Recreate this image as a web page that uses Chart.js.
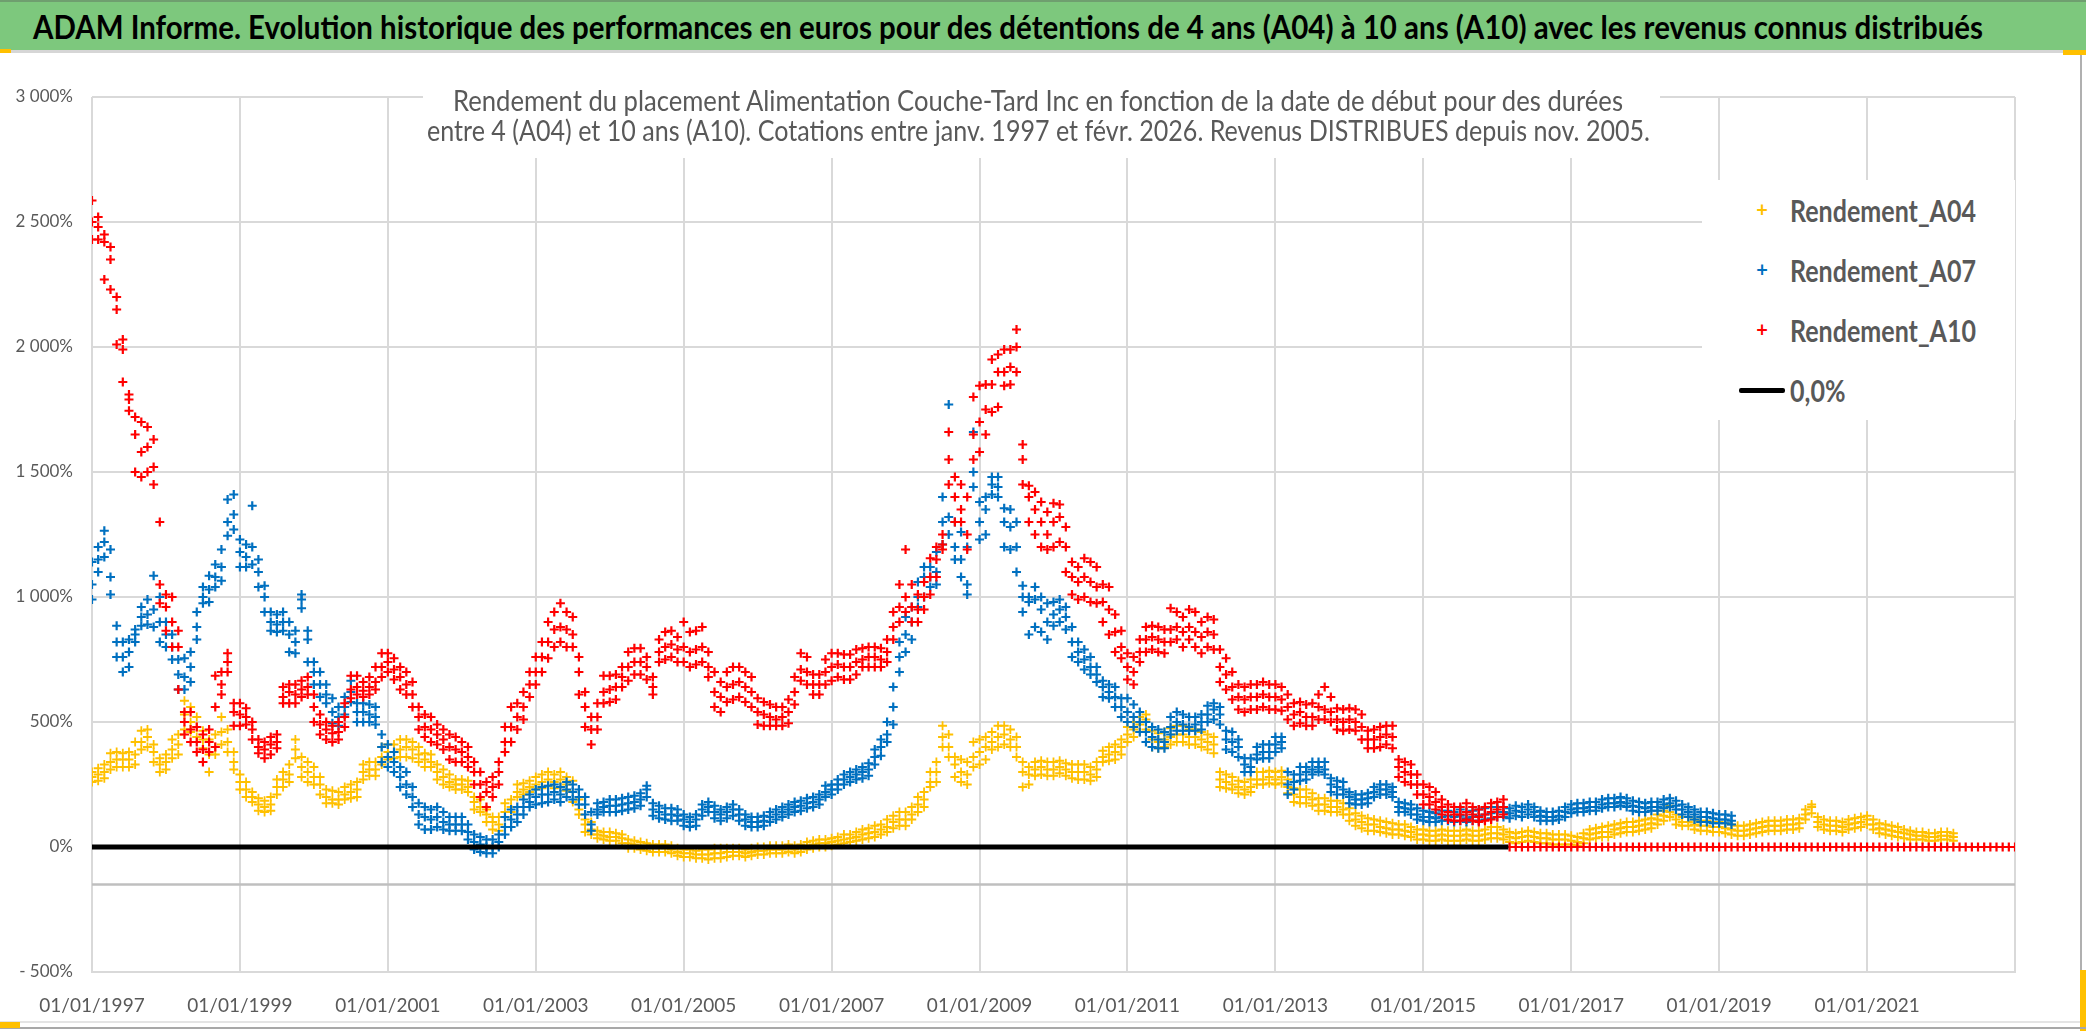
<!DOCTYPE html>
<html>
<head>
<meta charset="utf-8">
<script src="https://cdn.jsdelivr.net/npm/chart.js@4.4.1/dist/chart.umd.min.js"></script>
<style>
  html, body { margin: 0; padding: 0; background: #fff; }
  body { width: 2086px; height: 1031px; position: relative; overflow: hidden; font-family: Lato, sans-serif; }
  canvas { position: absolute; left: 0; top: 0; }
  #banner { position: absolute; left: 0; top: 0; width: 2086px; height: 50px; background: #7dc87d;
            border-top: 2px solid #6f9f6f; box-sizing: border-box; }
  #banner span { position: absolute; left: 33px; top: 4px; font-size: 33px; font-weight: bold;
                 color: #000; white-space: nowrap; transform-origin: 0 50%; }
  #rule { position: absolute; left: 0; top: 50px; width: 2086px; height: 3px; background: #d6d6d6; }
  #subtitle { position: absolute; left: 423px; top: 85px; width: 1237px; height: 73px; background: #fff; }
  #subtitle span { position: absolute; white-space: nowrap; color: #595959; font-size: 29px;
                   line-height: 30px; transform-origin: 0 50%; }
  #legend { position: absolute; left: 1702px; top: 180px; width: 313px; height: 240px; background: #fff; }
  .item { position: absolute; left: 0; height: 40px; width: 313px; }
  .item .mk { position: absolute; left: 50px; top: 4px; width: 20px; text-align: center;
              font-size: 20px; font-weight: bold; line-height: 30px; }
  .item .tx { position: absolute; left: 88px; top: 0px; font-size: 30px; font-weight: bold;
              color: #595959; line-height: 40px; white-space: nowrap; transform-origin: 0 50%; }
  .item .ln { position: absolute; left: 37px; top: 18px; width: 46px; height: 5px; background: #000;
              border-radius: 2px; }
  .deco { position: absolute; }
</style>
</head>
<body>
<canvas id="chart" width="2086" height="1031"></canvas>
<div id="banner"><span id="titleText">ADAM Informe. Evolution historique des performances en euros pour des détentions de 4 ans (A04) à 10 ans (A10) avec les revenus connus distribués</span></div>
<div id="rule"></div>
<div id="subtitle"><span id="sub1" style="top:0">Rendement du placement Alimentation Couche-Tard Inc en fonction de la date de début pour des durées</span><span id="sub2" style="top:30px">entre 4 (A04) et 10 ans (A10). Cotations entre janv. 1997 et févr. 2026. Revenus DISTRIBUES depuis nov. 2005.</span></div>
<div id="legend"></div>
<div class="deco" style="left:0;top:49px;width:11px;height:4px;background:#ffc000"></div>
<div class="deco" style="left:2063px;top:50px;width:23px;height:5px;background:#ffc000"></div>
<div class="deco" style="left:2080px;top:55px;width:2px;height:976px;background:#b0b0b0"></div>
<div class="deco" style="left:2080px;top:970px;width:6px;height:61px;background:#ffc000"></div>
<div class="deco" style="left:0;top:1021px;width:2080px;height:2px;background:#e4e4e4"></div>
<div class="deco" style="left:0;top:1027px;width:2086px;height:2px;background:#a8a8a8"></div>
<div class="deco" style="left:0;top:1022px;width:20px;height:6px;background:#ffc000"></div>
<script>
// Rendement selon la date de début : une lecture par mois depuis janv. 1997 (en %),
// avec le bas et le haut du nuage de points pour chaque mois.
const firstYear = 1997;

const rendementA04 = [
  280, 290, 300, 340, 350, 350, 350, 370, 420, 440, 380, 330,
  340, 390, 410, 530, 500, 480, 430, 370, 400, 460, 420, 340,
  260, 230, 200, 170, 160, 170, 240, 270, 290, 390, 320, 300,
  280, 250, 200, 190, 190, 210, 220, 230, 300, 310, 310, 360,
  380, 380, 390, 400, 390, 370, 350, 340, 300, 280, 260, 250,
  250, 240, 180, 160, 130, 100, 90, 140, 160, 220, 230, 240,
  250, 260, 270, 260, 270, 250, 220, 150, 90, 70, 50, 45,
  40, 40, 35, 15, 10, 5, 5, -5, -5, -5, -10, -20,
  -25, -25, -30, -30, -30, -25, -25, -20, -20, -20, -25, -20,
  -15, -15, -10, -10, -10, -5, -10, -5, 5, 10, 15, 15,
  20, 25, 30, 35, 40, 50, 55, 60, 70, 80, 100, 110,
  110, 130, 170, 190, 260, 300, 440, 400, 330, 300, 290, 360,
  380, 400, 420, 440, 450, 430, 400, 300, 290, 310, 320, 310,
  310, 320, 310, 300, 300, 300, 290, 310, 360, 370, 380, 400,
  450, 470, 490, 510, 430, 420, 430, 440, 450, 450, 440, 440,
  430, 420, 410, 270, 260, 250, 240, 230, 240, 270, 270, 280,
  270, 280, 240, 210, 200, 200, 190, 170, 170, 160, 160, 150,
  130, 110, 100, 90, 90, 80, 75, 70, 70, 65, 60, 50,
  50, 45, 45, 50, 45, 45, 45, 50, 45, 45, 50, 55,
  55, 50, 40, 35, 40, 45, 40, 35, 35, 30, 30, 30,
  25, 20, 35, 50, 55, 60, 60, 70, 75, 80, 80, 85,
  90, 95, 110, 125, 140, 110, 100, 100, 90, 85, 85, 80,
  80, 75, 70, 65, 65, 70, 75, 80, 85, 85, 85, 90,
  90, 95, 130, 160, 100, 90, 85, 85, 80, 90, 95, 100,
  110, 90, 75, 70, 65, 60, 55, 50, 45, 45, 40, 40,
  45, 45, 40
];
const rendementA04Bas = [
  260, 265, 275, 310, 320, 320, 320, 330, 390, 400, 340, 300,
  310, 355, 370, 470, 460, 440, 395, 300, 370, 410, 380, 310,
  230, 200, 180, 145, 140, 145, 210, 240, 260, 355, 280, 260,
  250, 210, 175, 175, 170, 190, 195, 200, 270, 285, 285, 330,
  350, 355, 360, 360, 355, 340, 320, 320, 270, 250, 240, 230,
  230, 220, 150, 140, 100, 70, 65, 120, 140, 200, 210, 220,
  230, 235, 245, 235, 240, 225, 180, 130, 60, 50, 35, 30,
  25, 25, 15, -5, -5, -10, -15, -20, -20, -20, -25, -35,
  -40, -40, -45, -45, -50, -45, -45, -40, -35, -35, -40, -35,
  -30, -30, -25, -25, -25, -20, -25, -20, -10, -5, 0, 0,
  5, 10, 15, 20, 25, 30, 35, 40, 50, 60, 75, 85,
  85, 110, 140, 160, 240, 260, 400, 360, 280, 260, 250, 320,
  330, 350, 390, 400, 410, 400, 360, 240, 250, 285, 290, 285,
  285, 295, 285, 275, 270, 270, 265, 280, 340, 345, 350, 370,
  420, 440, 460, 470, 400, 395, 400, 410, 420, 420, 410, 410,
  400, 390, 375, 240, 235, 230, 215, 210, 220, 250, 250, 255,
  250, 255, 215, 180, 175, 175, 165, 145, 145, 140, 140, 130,
  105, 85, 75, 65, 65, 60, 55, 50, 50, 45, 40, 30,
  30, 25, 25, 30, 25, 25, 25, 30, 25, 25, 30, 35,
  35, 30, 20, 15, 20, 25, 20, 15, 15, 10, 10, 10,
  10, 5, 15, 30, 35, 40, 40, 50, 55, 60, 60, 65,
  70, 75, 90, 105, 120, 90, 85, 85, 70, 65, 65, 60,
  60, 55, 50, 45, 45, 50, 55, 60, 65, 65, 65, 70,
  70, 75, 110, 135, 80, 70, 65, 65, 60, 70, 75, 80,
  90, 70, 55, 50, 45, 40, 35, 30, 30, 30, 25, 25,
  30, 30, 25
];
const rendementA04Haut = [
  300, 315, 330, 375, 380, 375, 380, 420, 465, 470, 410, 355,
  370, 430, 450, 585, 560, 520, 465, 430, 450, 520, 470, 380,
  290, 260, 220, 195, 185, 200, 270, 300, 330, 430, 360, 340,
  320, 280, 230, 225, 220, 240, 250, 260, 330, 340, 340, 400,
  410, 410, 430, 430, 420, 400, 375, 370, 330, 310, 290, 270,
  270, 265, 200, 190, 150, 120, 120, 175, 190, 250, 255, 265,
  280, 290, 300, 290, 300, 280, 265, 190, 110, 100, 65, 60,
  60, 55, 50, 30, 25, 20, 15, 10, 10, 10, 5, -5,
  -10, -10, -15, -10, -10, -5, -5, -5, -5, -5, -10, -5,
  0, 0, 5, 5, 5, 10, 5, 10, 20, 25, 30, 30,
  35, 40, 50, 50, 60, 70, 75, 85, 90, 110, 125, 140,
  140, 160, 200, 220, 300, 340, 485, 450, 360, 350, 340, 420,
  430, 440, 460, 485, 485, 470, 440, 340, 320, 340, 345, 340,
  340, 345, 335, 330, 330, 330, 320, 340, 385, 400, 410, 430,
  480, 500, 520, 530, 465, 455, 460, 475, 485, 485, 470, 470,
  460, 450, 440, 300, 290, 280, 265, 260, 270, 300, 300, 305,
  300, 305, 270, 235, 230, 230, 215, 195, 195, 185, 185, 175,
  155, 135, 125, 115, 110, 105, 100, 95, 90, 90, 80, 70,
  70, 65, 65, 70, 65, 65, 65, 70, 65, 65, 70, 80,
  80, 70, 60, 55, 60, 65, 60, 55, 55, 50, 50, 50,
  45, 40, 55, 70, 75, 80, 85, 90, 95, 100, 100, 105,
  110, 115, 130, 145, 165, 130, 120, 120, 110, 105, 105, 100,
  100, 95, 90, 85, 85, 90, 95, 100, 105, 105, 105, 110,
  110, 115, 150, 170, 120, 110, 105, 105, 100, 110, 115, 120,
  125, 110, 95, 90, 85, 80, 70, 65, 60, 60, 55, 55,
  60, 60, 55
];

const rendementA07 = [
  1050, 1150, 1220, 1080, 820, 760, 780, 850, 920, 930, 950, 900,
  850, 800, 690, 680, 720, 880, 1000, 1030, 1080, 1120, 1300, 1330,
  1180, 1160, 1200, 1100, 1000, 900, 890, 900, 850, 820, 990, 830,
  700, 650, 610, 540, 520, 560, 620, 540, 540, 530, 520, 400,
  360, 340, 280, 250, 200, 130, 120, 110, 120, 100, 90, 90,
  90, 60, 20, 10, 0, 0, 20, 80, 110, 130, 160, 180,
  200, 210, 210, 220, 210, 230, 220, 200, 170, 90, 150, 160,
  165, 165, 170, 175, 180, 190, 230, 150, 140, 130, 130, 125,
  110, 100, 110, 150, 160, 140, 130, 140, 150, 130, 110, 100,
  100, 105, 120, 130, 140, 150, 160, 165, 175, 180, 190, 220,
  230, 250, 270, 280, 290, 300, 310, 360, 400, 450, 560, 760,
  850, 900, 1000, 1080, 1080, 1100, 1300, 1320, 1200, 1150, 1050, 1500,
  1300, 1350, 1450, 1440, 1300, 1280, 1200, 1000, 980, 990, 950, 900,
  930, 950, 920, 820, 780, 750, 720, 690, 640, 620, 600, 560,
  540, 520, 500, 460, 440, 430, 420, 480, 500, 490, 480, 490,
  500, 530, 550, 530, 430, 420, 400, 330, 320, 370, 380, 380,
  410, 420, 250, 260, 290, 300, 310, 320, 310, 250, 240, 230,
  200, 190, 190, 195, 220, 230, 230, 220, 160, 155, 150, 130,
  120, 120, 115, 120, 125, 120, 125, 115, 120, 125, 130, 135,
  140, 140, 135, 145, 140, 150, 140, 125, 120, 120, 125, 140,
  150, 155, 155, 160, 160, 170, 175, 175, 180, 175, 165, 160,
  155, 160, 160, 170, 175, 165, 150, 140, 130, 120, 120, 115,
  110, 110, 105
];
const rendementA07Bas = [
  990, 1100, 1160, 1010, 760, 700, 720, 820, 885, 890, 880, 820,
  800, 750, 630, 630, 660, 830, 975, 980, 1040, 1065, 1245, 1270,
  1120, 1120, 1130, 1040, 940, 865, 860, 865, 780, 775, 955, 740,
  650, 600, 575, 495, 485, 530, 580, 500, 500, 500, 490, 340,
  320, 300, 240, 210, 160, 90, 70, 70, 80, 70, 65, 65,
  65, 30, -10, -20, -25, -25, 0, 50, 80, 100, 130, 160,
  170, 175, 180, 190, 180, 200, 190, 170, 130, 65, 130, 140,
  140, 140, 145, 150, 155, 165, 200, 125, 115, 110, 105, 105,
  85, 80, 85, 125, 140, 115, 105, 115, 125, 105, 85, 80,
  80, 85, 100, 110, 120, 130, 140, 145, 155, 160, 170, 200,
  210, 230, 250, 260, 270, 275, 285, 330, 365, 420, 490, 700,
  780, 830, 960, 1000, 1040, 1050, 1210, 1250, 1150, 1080, 1010, 1440,
  1230, 1250, 1410, 1400, 1200, 1190, 1100, 940, 850, 880, 860, 830,
  885, 900, 870, 760, 740, 710, 690, 660, 600, 595, 560, 520,
  500, 480, 460, 420, 400, 395, 395, 450, 465, 465, 465, 465,
  470, 500, 510, 490, 390, 380, 360, 300, 300, 350, 355, 355,
  380, 395, 210, 230, 265, 270, 290, 300, 290, 220, 210, 210,
  175, 170, 170, 175, 200, 210, 210, 200, 140, 140, 130, 110,
  105, 100, 100, 105, 105, 100, 105, 100, 105, 105, 110, 115,
  120, 120, 115, 125, 120, 130, 120, 105, 105, 105, 110, 120,
  135, 140, 140, 145, 145, 155, 160, 160, 165, 160, 145, 140,
  140, 145, 145, 155, 160, 150, 130, 120, 110, 100, 100, 95,
  95, 95, 90
];
const rendementA07Haut = [
  1140, 1200, 1265, 1190, 885, 820, 830, 870, 960, 990, 1085, 1000,
  900, 850, 750, 755, 780, 940, 1040, 1085, 1130, 1190, 1390, 1410,
  1230, 1210, 1365, 1150, 1045, 940, 930, 940, 900, 865, 1010, 865,
  740, 700, 650, 595, 560, 600, 665, 575, 575, 570, 560, 450,
  410, 380, 320, 300, 240, 175, 160, 150, 160, 140, 120, 120,
  120, 90, 50, 40, 30, 30, 50, 120, 150, 160, 190, 210,
  230, 240, 245, 250, 240, 260, 250, 230, 200, 140, 175, 180,
  190, 190, 195, 200, 205, 215, 245, 175, 165, 155, 155, 150,
  130, 120, 130, 170, 180, 165, 150, 160, 170, 150, 130, 120,
  120, 125, 140, 150, 160, 170, 180, 185, 195, 200, 210, 245,
  250, 270, 290, 300, 310, 320, 335, 390, 430, 500, 640, 820,
  920, 960, 1060, 1120, 1120, 1180, 1400, 1770, 1300, 1260, 1200, 1660,
  1380, 1400, 1480, 1480, 1355, 1350, 1300, 1045, 1000, 1040, 1000, 975,
  980, 990, 960, 880, 820, 790, 760, 720, 665, 650, 640, 595,
  595, 570, 540, 500, 480, 470, 460, 520, 540, 530, 520, 520,
  530, 565, 575, 560, 465, 460, 430, 355, 355, 400, 410, 410,
  440, 440, 300, 290, 320, 320, 340, 340, 340, 275, 265, 260,
  220, 210, 210, 215, 240, 250, 250, 240, 180, 175, 170, 155,
  145, 140, 135, 145, 145, 140, 150, 140, 145, 150, 155, 160,
  160, 160, 155, 165, 160, 170, 160, 145, 140, 140, 145, 160,
  170, 175, 175, 180, 180, 190, 195, 195, 200, 195, 185, 180,
  175, 180, 180, 190, 195, 185, 170, 160, 150, 140, 140, 135,
  130, 130, 125
];

// A10 : zéro à partir de mars 2016 (durée de 10 ans non encore atteinte)
const rendementA10 = [
  2500, 2480, 2420, 2350, 2200, 1990, 1790, 1650, 1580, 1600, 1520, 1050,
  960, 900, 800, 500, 470, 420, 390, 420, 560, 650, 740, 540,
  530, 520, 470, 400, 390, 410, 420, 600, 620, 610, 630, 640,
  560, 490, 470, 455, 460, 520, 630, 640, 625, 640, 660, 720,
  740, 710, 680, 650, 610, 520, 480, 470, 450, 430, 400, 390,
  380, 360, 300, 250, 220, 240, 300, 420, 480, 520, 560, 650,
  700, 760, 820, 870, 880, 870, 850, 700, 560, 470, 520, 620,
  630, 640, 680, 720, 740, 740, 720, 640, 780, 800, 810, 790,
  800, 780, 790, 800, 720, 620, 600, 640, 650, 660, 640, 620,
  540, 530, 520, 510, 520, 540, 620, 710, 700, 650, 650, 700,
  720, 730, 720, 720, 740, 750, 760, 760, 750, 780, 880, 960,
  1000, 960, 950, 1000, 1080, 1150, 1210, 1550, 1400, 1350, 1250, 1650,
  1700, 1750, 1850, 1900, 1900, 1920, 2000, 1550, 1400, 1350, 1300, 1250,
  1300, 1320, 1200, 1080, 1060, 1080, 1060, 1040, 980, 950, 860, 800,
  720, 700, 780, 830, 840, 830, 820, 870, 880, 860, 880, 860,
  840, 860, 850, 720, 690, 640, 600, 590, 600, 600, 610, 600,
  600, 590, 560, 530, 540, 520, 520, 560, 550, 540, 510, 500,
  510, 500, 480, 430, 430, 440, 450, 440, 320, 300, 290, 250,
  210, 200, 180, 160, 140, 130, 130, 140, 130, 120, 130, 140,
  150, 160, 0, 0, 0, 0, 0, 0, 0, 0, 0, 0,
  0, 0, 0, 0, 0, 0, 0, 0, 0, 0, 0, 0,
  0, 0, 0, 0, 0, 0, 0, 0, 0, 0, 0, 0,
  0, 0, 0, 0, 0, 0, 0, 0, 0, 0, 0, 0,
  0, 0, 0, 0, 0, 0, 0, 0, 0, 0, 0, 0,
  0, 0, 0, 0, 0, 0, 0, 0, 0, 0, 0, 0,
  0, 0, 0, 0, 0, 0, 0, 0, 0, 0, 0, 0,
  0
];
const rendementA10Bas = [
  2430, 2430, 2270, 2230, 2010, 1860, 1745, 1500, 1480, 1500, 1450, 975,
  865, 800, 630, 450, 420, 380, 340, 380, 400, 610, 700, 485,
  485, 490, 430, 375, 355, 370, 395, 575, 575, 575, 600, 610,
  500, 450, 430, 420, 430, 480, 595, 610, 600, 610, 630, 680,
  700, 670, 630, 610, 560, 470, 440, 420, 410, 390, 350, 340,
  340, 320, 250, 200, 160, 200, 250, 380, 420, 470, 510, 600,
  650, 700, 755, 800, 820, 800, 800, 610, 480, 410, 470, 575,
  580, 590, 640, 665, 690, 690, 670, 610, 740, 750, 760, 740,
  740, 720, 730, 740, 680, 560, 540, 580, 590, 600, 580, 560,
  490, 485, 485, 485, 485, 495, 570, 665, 650, 610, 610, 650,
  665, 680, 670, 670, 690, 720, 720, 720, 720, 740, 830, 900,
  940, 900, 900, 950, 1010, 1080, 1190, 1450, 1300, 1300, 1190, 1550,
  1580, 1650, 1740, 1760, 1845, 1850, 1900, 1450, 1300, 1250, 1200, 1190,
  1200, 1220, 1100, 1010, 990, 1000, 980, 975, 900, 850, 780, 755,
  670, 650, 740, 780, 790, 780, 775, 820, 830, 800, 830, 800,
  775, 800, 790, 660, 630, 590, 550, 540, 550, 550, 560, 550,
  550, 545, 510, 485, 495, 485, 485, 510, 510, 500, 470, 465,
  470, 465, 430, 395, 395, 400, 410, 395, 280, 260, 250, 210,
  170, 170, 150, 130, 110, 105, 105, 110, 105, 100, 105, 110,
  120, 130
];
const rendementA10Haut = [
  2586, 2520, 2450, 2400, 2150, 2030, 1810, 1720, 1700, 1680, 1630, 1300,
  1010, 1000, 865, 540, 540, 480, 450, 470, 685, 700, 775, 575,
  575, 555, 500, 430, 420, 440, 450, 640, 650, 650, 665, 680,
  610, 530, 500, 485, 500, 575, 685, 685, 660, 680, 720, 775,
  775, 755, 720, 700, 660, 560, 530, 520, 490, 470, 450, 440,
  420, 400, 340, 300, 260, 280, 340, 480, 560, 575, 620, 700,
  760, 820, 900, 940, 975, 940, 920, 760, 620, 520, 575, 685,
  685, 690, 720, 780, 795, 795, 760, 680, 830, 860, 865, 840,
  900, 860, 865, 880, 780, 700, 660, 700, 720, 720, 700, 680,
  595, 580, 570, 560, 560, 590, 680, 775, 760, 690, 690, 750,
  775, 775, 770, 770, 790, 795, 800, 800, 795, 830, 940, 1050,
  1190, 1050, 1010, 1060, 1155, 1200, 1250, 1660, 1480, 1450, 1400, 1800,
  1845, 1850, 1950, 1970, 1990, 1990, 2070, 1610, 1445, 1420, 1380, 1340,
  1375, 1370, 1280, 1140, 1120, 1155, 1140, 1120, 1050, 1040, 930, 865,
  775, 760, 830, 880, 885, 880, 870, 955, 940, 920, 950, 940,
  900, 920, 910, 790, 755, 700, 650, 640, 650, 650, 660, 650,
  650, 640, 610, 575, 580, 570, 575, 610, 640, 600, 555, 550,
  555, 550, 530, 465, 470, 480, 485, 485, 350, 340, 330, 290,
  250, 240, 220, 190, 170, 160, 160, 175, 160, 150, 160, 175,
  180, 190
];

// ligne 0,0% et axe horizontal (croise a -150%)
const zeroLineX = [1997, 2016.15];
const zeroLineY = [0, 0];
const axisLineX = [1997, 2023];
const axisLineY = [-150, -150];

const seriesNames = ['Rendement_A04', 'Rendement_A07', 'Rendement_A10', '0,0%'];
const seriesColors = ['#FFC000', '#0070C0', '#FF0000', '#000000'];

const toPoints = (values) => values.map((v, i) => ({ x: firstYear + i / 12, y: v }));
const cloud = (...arrays) => arrays.flatMap(toPoints);
const pairs = (xs, ys) => xs.map((x, i) => ({ x: x, y: ys[i] }));

const fmtPct = (v) => {
  const s = Math.abs(v).toString().replace(/\B(?=(\d{3})+(?!\d))/g, ' ');
  return (v < 0 ? '- ' : '') + s + '%';
};

const chart = new Chart(document.getElementById('chart').getContext('2d'), {
  type: 'scatter',
  data: {
    datasets: [
      {
        label: seriesNames[0],
        data: cloud(rendementA04, rendementA04Bas, rendementA04Haut),
        pointStyle: 'cross',
        radius: 4.5,
        borderColor: seriesColors[0],
        borderWidth: 1.8,
        order: 4
      },
      {
        label: seriesNames[1],
        data: cloud(rendementA07, rendementA07Bas, rendementA07Haut),
        pointStyle: 'cross',
        radius: 4.5,
        borderColor: seriesColors[1],
        borderWidth: 2.2,
        order: 3
      },
      {
        label: seriesNames[2],
        data: cloud(rendementA10, rendementA10Bas, rendementA10Haut),
        pointStyle: 'cross',
        radius: 4.5,
        borderColor: seriesColors[2],
        borderWidth: 2.2,
        order: 2
      },
      {
        label: seriesNames[3],
        data: pairs(zeroLineX, zeroLineY),
        showLine: true,
        pointRadius: 0,
        borderColor: seriesColors[3],
        borderWidth: 5,
        order: 1
      },
      {
        label: 'axe',
        data: pairs(axisLineX, axisLineY),
        showLine: true,
        pointRadius: 0,
        borderColor: '#bfbfbf',
        borderWidth: 2.5,
        order: 5
      }
    ]
  },
  options: {
    responsive: false,
    animation: false,
    devicePixelRatio: 1,
    layout: { padding: { top: 97, right: 71, left: 0, bottom: 0 } },
    plugins: {
      legend: { display: false },
      tooltip: { enabled: false }
    },
    scales: {
      x: {
        type: 'linear',
        min: 1997,
        max: 2023,
        afterFit: (scale) => { scale.height = 59; },
        ticks: {
          stepSize: 2,
          padding: 22,
          color: '#595959',
          font: { family: 'Lato', size: 19 },
          maxRotation: 0,
          callback: (v) => (v >= 2023 ? '' : '01/01/' + v)
        },
        grid: { color: '#d9d9d9', lineWidth: 2, drawTicks: false },
        border: { color: '#d9d9d9', width: 2 }
      },
      y: {
        min: -500,
        max: 3000,
        afterFit: (scale) => { scale.width = 92; },
        ticks: {
          stepSize: 500,
          padding: 19,
          color: '#595959',
          font: { family: 'Lato', size: 17 },
          callback: (v) => fmtPct(v)
        },
        grid: { color: '#d9d9d9', lineWidth: 2, drawTicks: false },
        border: { display: false }
      }
    }
  }
});

// legende a droite, dans la zone de tracé
const legendBox = document.getElementById('legend');
seriesNames.forEach((name, i) => {
  const row = document.createElement('div');
  row.className = 'item';
  row.style.top = (10 + i * 60) + 'px';
  const mark = i < 3
    ? '<span class="mk" style="color:' + seriesColors[i] + '">+</span>'
    : '<span class="ln"></span>';
  row.innerHTML = mark + '<span class="tx">' + name + '</span>';
  legendBox.appendChild(row);
});

// les textes du modèle sont étroits : on les resserre à la largeur lue
function squeeze(el, width) {
  el.style.transform = 'none';
  const w = el.getBoundingClientRect().width;
  el.style.transform = 'scaleX(' + (width / w) + ')';
  return width / w;
}
function fitTexts() {
  squeeze(document.getElementById('titleText'), 1950);
  const s1 = document.getElementById('sub1');
  const s2 = document.getElementById('sub2');
  squeeze(s1, 1170); s1.style.left = (453 - 423) + 'px';
  squeeze(s2, 1223); s2.style.left = (427 - 423) + 'px';
  const texts = legendBox.querySelectorAll('.tx');
  const k = squeeze(texts[0], 186);
  texts.forEach((t) => { t.style.transform = 'scaleX(' + k + ')'; });
}
fitTexts();
if (document.fonts && document.fonts.ready) document.fonts.ready.then(fitTexts);
</script>
</body>
</html>
